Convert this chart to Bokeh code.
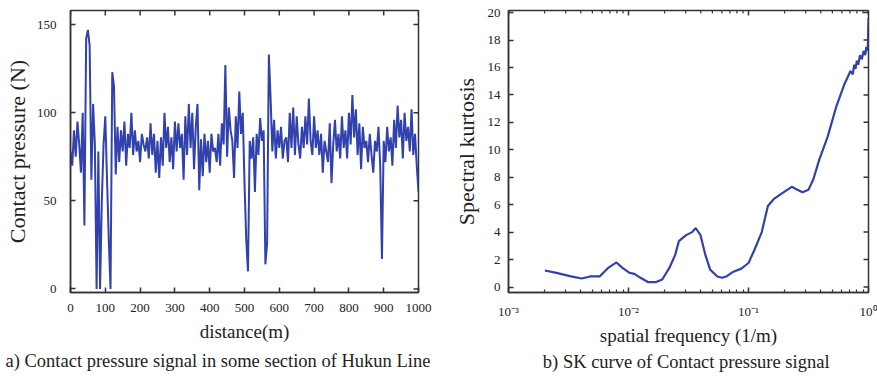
import math
from bokeh.plotting import figure
from bokeh.layouts import row
from bokeh.models import Title, FixedTicker, CustomJSTickFormatter
from bokeh.embed import file_html
from bokeh.resources import INLINE

# ---------------- data ----------------
# (a) contact pressure (N), sampled every 5 m from 0 to 1000 m
pressure = [
    78, 70, 90, 75, 95, 82, 66, 100, 36, 142,
    147, 138, 62, 105, 82, 0, 78, 0, 50, 82,
    98, 62, 28, 0, 123, 115, 65, 92, 72, 90,
    78, 95, 70, 88, 80, 100, 76, 90, 78, 84,
    72, 88, 82, 78, 86, 74, 94, 76, 88, 66,
    84, 63, 86, 70, 100, 80, 92, 72, 86, 68,
    95, 78, 94, 80, 88, 62, 98, 76, 105, 80,
    100, 68, 92, 105, 56, 85, 64, 88, 72, 84,
    66, 88, 78, 80, 72, 88, 70, 94, 82, 127,
    75, 103, 90, 84, 63, 98, 80, 112, 88, 100,
    60, 28, 10, 84, 74, 86, 55, 88, 76, 97,
    84, 90, 14, 26, 133, 108, 78, 96, 74, 90,
    80, 92, 74, 84, 86, 72, 100, 80, 103, 76,
    98, 82, 74, 92, 80, 98, 82, 108, 84, 76,
    98, 80, 90, 76, 88, 66, 84, 78, 72, 94,
    60, 82, 96, 78, 88, 74, 98, 80, 90, 74,
    100, 82, 110, 86, 102, 76, 94, 68, 92, 80,
    84, 72, 88, 76, 66, 84, 78, 92, 70, 17,
    84, 72, 92, 78, 86, 70, 96, 80, 104, 86,
    96, 74, 100, 84, 92, 78, 102, 76, 88, 70,
    55,
]
distance = [5 * i for i in range(len(pressure))]

# (b) spectral kurtosis vs spatial frequency (1/m)
freq = [0.00201, 0.00251, 0.00324, 0.00407, 0.00479, 0.00575, 0.00676, 0.00794,
        0.00891, 0.0102, 0.0112, 0.0126, 0.0145, 0.0170, 0.0191, 0.0219, 0.0245,
        0.0263, 0.0302, 0.0339, 0.0363, 0.0398, 0.0437, 0.0479, 0.0550, 0.0603,
        0.0661, 0.0741, 0.0871, 0.100, 0.112, 0.129, 0.145, 0.162, 0.186, 0.229,
        0.251, 0.282, 0.316, 0.347, 0.389, 0.457, 0.537, 0.631, 0.708, 0.74, 0.76,
        0.78, 0.80, 0.82, 0.85, 0.88, 0.91, 0.94, 0.96, 0.98, 0.99, 1.0]
sk = [1.2, 1.03, 0.79, 0.62, 0.77, 0.77, 1.39, 1.79, 1.39, 1.03, 0.96, 0.67,
      0.36, 0.36, 0.55, 1.39, 2.34, 3.35, 3.78, 4.0, 4.3, 3.78, 2.34, 1.27,
      0.77, 0.67, 0.79, 1.10, 1.34, 1.75, 2.7, 4.0, 5.9, 6.4, 6.77, 7.3, 7.13,
      6.9, 7.08, 7.85, 9.28, 10.96, 13.1, 14.8, 15.74, 15.5, 16.2, 15.9, 16.5,
      16.2, 16.9, 16.6, 17.2, 16.9, 17.5, 17.2, 17.8, 19.6]

xticks_a = [0, 100, 200, 300, 400, 500, 600, 700, 800, 900, 1000]
yticks_a = [0, 50, 100, 150]
xticks_b = [0.001, 0.01, 0.1, 1]
xtick_labels_b = ["10\u207b\u00b3", "10\u207b\u00b2", "10\u207b\u00b9", "10\u2070"]
xminor_b = [m * d for d in [0.001, 0.01, 0.1] for m in range(2, 10)]
yticks_b = [0, 2, 4, 6, 8, 10, 12, 14, 16, 18, 20]

caption_a = "a)  Contact pressure signal in some section of Hukun Line"
caption_b = "b) SK curve of  Contact pressure signal"

FONT = "Liberation Serif"
BLUE = "#3141ad"
AXC = "#333333"
TXT = "#222222"

XR_A, YR_A = (0, 1000), (-2, 158)
XR_B, YR_B = (0.001, 1), (-0.4, 20.15)


def style_axis(ax, minor=False):
    ax.major_tick_in = 5
    ax.major_tick_out = 0
    ax.minor_tick_in = 3 if minor else 0
    ax.minor_tick_out = 0
    ax.axis_line_color = AXC
    ax.axis_line_width = 1.5
    ax.major_tick_line_color = AXC
    ax.major_tick_line_width = 1.5
    ax.minor_tick_line_color = AXC if minor else None
    ax.minor_tick_line_width = 1.2
    ax.major_label_text_font = FONT
    ax.major_label_text_color = TXT
    ax.major_label_text_font_size = "13px"
    ax.axis_label_text_font = FONT
    ax.axis_label_text_font_style = "normal"
    ax.axis_label_text_color = TXT


def style_xaxis(ax, label, label_standoff=3):
    ax.axis_label = label
    ax.axis_label_text_font_size = "19px"
    ax.axis_label_text_line_height = 0.9
    ax.major_label_standoff = 11
    ax.axis_label_standoff = label_standoff


def caption(text, standoff=3, **kw):
    return Title(text=text, standoff=standoff, text_font=FONT, text_font_size="18.5px",
                 text_line_height=0.85, text_font_style="normal", text_color=TXT, **kw)


def inner_ticks(p, xs, ys, xr, yr, fw, fh, xlog=False, xs_minor=(), major=5, minor=3):
    """Inward ticks on the top and right edges of the frame (mirror of bottom/left)."""
    dy = (yr[1] - yr[0]) / fh
    for ticks, ln, w in ((xs, major, 1.5), (list(xs_minor), minor, 1.2)):
        if ticks:
            p.segment(x0=ticks, y0=[yr[1]] * len(ticks), x1=ticks,
                      y1=[yr[1] - ln * dy] * len(ticks), line_color=AXC, line_width=w)
    if xlog:
        x1 = 10 ** (math.log10(xr[1]) - major * (math.log10(xr[1]) - math.log10(xr[0])) / fw)
    else:
        x1 = xr[1] - major * (xr[1] - xr[0]) / fw
    p.segment(x0=[xr[1]] * len(ys), y0=ys, x1=[x1] * len(ys), y1=ys,
              line_color=AXC, line_width=1.5)


# ---------------- panel a ----------------
p1 = figure(width=450, height=377, x_range=XR_A, y_range=YR_A,
            output_backend="svg", toolbar_location=None,
            min_border_left=70, min_border_right=32,
            min_border_top=10, min_border_bottom=85)
p1.line(distance, pressure, line_width=2.0, color=BLUE)
p1.xgrid.visible = False
p1.ygrid.visible = False
p1.outline_line_color = AXC
p1.outline_line_width = 1.5

p1.xaxis.ticker = FixedTicker(ticks=xticks_a)
p1.yaxis.ticker = FixedTicker(ticks=yticks_a)
for ax in p1.xaxis + p1.yaxis:
    style_axis(ax)
style_xaxis(p1.xaxis[0], "distance(m)", label_standoff=6)
p1.yaxis.axis_label = "Contact pressure (N)"
p1.yaxis.axis_label_text_font_size = "22px"
p1.yaxis.major_label_standoff = 14
p1.yaxis.axis_label_standoff = 4
inner_ticks(p1, xticks_a, yticks_a, XR_A, YR_A, 348, 282)

p1.add_layout(caption(caption_a, standoff=9, align="left", offset=-65), "below")

# ---------------- panel b ----------------
p2 = figure(width=427, height=377, x_axis_type="log", x_range=XR_B, y_range=YR_B,
            output_backend="svg", toolbar_location=None,
            min_border_left=55, min_border_right=9,
            min_border_top=5, min_border_bottom=85)
p2.line(freq, sk, line_width=2.2, color=BLUE)
p2.xgrid.visible = False
p2.ygrid.visible = False
p2.outline_line_color = AXC
p2.outline_line_width = 1.5

p2.xaxis.ticker = FixedTicker(ticks=xticks_b, minor_ticks=xminor_b)
p2.xaxis.formatter = CustomJSTickFormatter(
    args=dict(tvals=xticks_b, tlabels=xtick_labels_b),
    code="""
    let best = 0, bd = Infinity;
    for (let i = 0; i < tvals.length; i++) {
        const d = Math.abs(Math.log10(tick) - Math.log10(tvals[i]));
        if (d < bd) { bd = d; best = i; }
    }
    return tlabels[best];
    """)
p2.yaxis.ticker = FixedTicker(ticks=yticks_b)
for ax in p2.xaxis:
    style_axis(ax, minor=True)
for ax in p2.yaxis:
    style_axis(ax)
style_xaxis(p2.xaxis[0], "spatial frequency (1/m)")
p2.yaxis.axis_label = "Spectral kurtosis"
p2.yaxis.axis_label_text_font_size = "22px"
p2.yaxis.major_label_standoff = 8
p2.yaxis.axis_label_standoff = 6
inner_ticks(p2, xticks_b, yticks_b, XR_B, YR_B, 363, 287, xlog=True, xs_minor=xminor_b)

p2.add_layout(caption(caption_b, align="center"), "below")

layout = row(p1, p2)
open("out.html", "w").write(file_html(layout, INLINE))
